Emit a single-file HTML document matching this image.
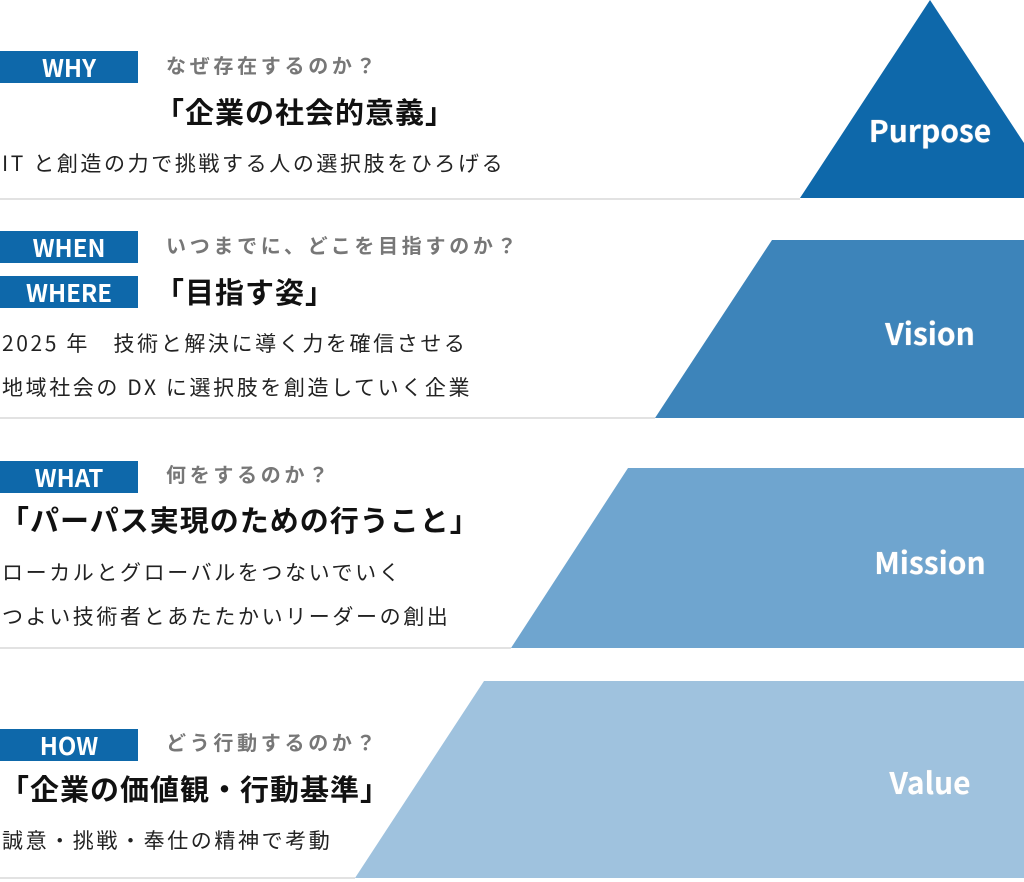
<!DOCTYPE html>
<html><head><meta charset="utf-8"><style>
body{margin:0;width:1024px;height:882px;background:#fff;position:relative;overflow:hidden;font-family:"Liberation Sans","Noto Sans CJK JP",sans-serif;}
.t{position:absolute;white-space:nowrap;}
.box{position:absolute;left:0;width:138px;height:32px;background:#0e68aa;color:#fff;font-weight:bold;font-size:24px;text-align:center;line-height:32px;font-family:"Noto Sans CJK JP",sans-serif;}
.q{font-size:20px;font-weight:bold;color:#777;letter-spacing:3.7px;font-family:"Noto Sans CJK JP",sans-serif;}
.h{font-size:29px;font-weight:bold;color:#111;letter-spacing:1px;font-family:"Noto Sans CJK JP",sans-serif;}
.b{font-size:21px;color:#222;letter-spacing:2.6px;line-height:44px;font-family:"Noto Sans CJK JP",sans-serif;}
.lbl{position:absolute;width:200px;text-align:center;color:#fff;font-weight:bold;font-size:30px;font-family:"Noto Sans CJK JP",sans-serif;text-shadow:0 0 1px #ccc;}
</style></head><body>
<svg width="1024" height="882" style="position:absolute;left:0;top:0">
<line x1="0" y1="199" x2="800" y2="199" stroke="#e2e2e2" stroke-width="2"/>
<line x1="0" y1="418" x2="655" y2="418" stroke="#e2e2e2" stroke-width="2"/>
<line x1="0" y1="648" x2="511" y2="648" stroke="#e2e2e2" stroke-width="2"/>
<line x1="0" y1="878" x2="355" y2="878" stroke="#e2e2e2" stroke-width="2"/>
<polygon points="930,0 1024,143 1024,198 800,198" fill="#0e68aa"/>
<polygon points="772,240 1024,240 1024,418 655,418" fill="#3d84ba"/>
<polygon points="628,468 1024,468 1024,648 511,648" fill="#6fa5cf"/>
<polygon points="484,681 1024,681 1024,878 355,878" fill="#9fc2de"/>
</svg>
<div class="lbl" style="left:830px;top:107px">Purpose</div>
<div class="lbl" style="left:830px;top:310px">Vision</div>
<div class="lbl" style="left:830px;top:539px">Mission</div>
<div class="lbl" style="left:830px;top:759px">Value</div>

<div class="box" style="top:51px">WHY</div>
<div class="t q" style="left:166px;top:50px">なぜ存在するのか？</div>
<div class="t h" style="left:155px;top:90px">「企業の社会的意義」</div>
<div class="t b" style="left:2px;top:141px">IT と創造の力で挑戦する人の選択肢をひろげる</div>

<div class="box" style="top:231px">WHEN</div>
<div class="box" style="top:276px">WHERE</div>
<div class="t q" style="left:166px;top:230px">いつまでに、どこを目指すのか？</div>
<div class="t h" style="left:155px;top:270px">「目指す姿」</div>
<div class="t b" style="left:2px;top:321px">2025 年　技術と解決に導く力を確信させる<br>地域社会の DX に選択肢を創造していく企業</div>

<div class="box" style="top:461px">WHAT</div>
<div class="t q" style="left:166px;top:459px">何をするのか？</div>
<div class="t h" style="left:0px;top:498px">「パーパス実現のための行うこと」</div>
<div class="t b" style="left:2px;top:550px">ローカルとグローバルをつないでいく<br>つよい技術者とあたたかいリーダーの創出</div>

<div class="box" style="top:729px">HOW</div>
<div class="t q" style="left:166px;top:727px">どう行動するのか？</div>
<div class="t h" style="left:0px;top:767px">「企業の価値観・行動基準」</div>
<div class="t b" style="left:2px;top:818px">誠意・挑戦・奉仕の精神で考動</div>
</body></html>
